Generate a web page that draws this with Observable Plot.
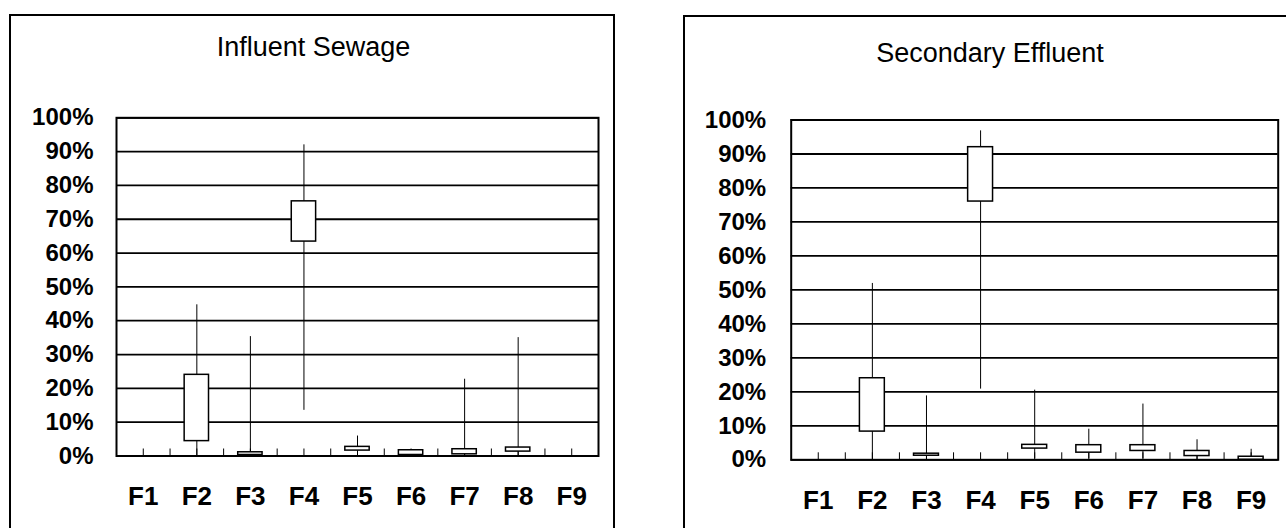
<!DOCTYPE html>
<html>
<head>
<meta charset="utf-8">
<script src="https://cdn.jsdelivr.net/npm/d3@7"></script>
<script src="https://cdn.jsdelivr.net/npm/@observablehq/plot@0.6"></script>
<style>
  html, body { margin: 0; padding: 0; background: #fff; }
  body { position: relative; width: 1286px; height: 528px; overflow: hidden; font-family: "Liberation Sans", Arial, sans-serif; }
  .frame { position: absolute; box-sizing: border-box; border: 2.5px solid #000; height: 600px; }
  .title { position: absolute; font-size: 27px; line-height: 27px; text-align: center; color: #000; white-space: nowrap; }
  .panel { position: absolute; top: 90px; }
  .panel svg { overflow: visible; background: transparent; max-width: none; }
</style>
</head>
<body>
<div class="frame" style="left:9px; top:14px; width:606px;"></div>
<div class="frame" style="left:683px; top:15px; width:640px;"></div>
<div class="title" style="left:10px; width:607px; top:33.7px;">Influent Sewage</div>
<div class="title" style="left:690px; width:600px; top:39.7px;">Secondary Effluent</div>
<div class="panel" id="left" style="left:0px;"></div>
<div class="panel" id="right" style="left:640px;"></div>
<script>
// Categories and tick values
const categories = ["F1", "F2", "F3", "F4", "F5", "F6", "F7", "F8", "F9"];
const yTicks = [0, 10, 20, 30, 40, 50, 60, 70, 80, 90, 100];

// Influent Sewage (percent): whisker min, box bottom, box top, whisker max
const influentMin = [null, 0, 0, 13.5, 0.5, 0.3, 0, 0, null];
const influentQ1  = [null, 4.4, 0.3, 63.4, 1.6, 0.3, 0.5, 1.3, null];
const influentQ3  = [null, 24, 1.1, 75.3, 2.7, 1.7, 2.0, 2.5, null];
const influentMax = [null, 44.7, 35.3, 92, 5.9, 1.7, 22.7, 35, null];

// Secondary Effluent (percent)
const effluentMin = [null, 0, 0, 20.8, 0.3, 0.3, 0.3, 0, 0];
const effluentQ1  = [null, 8.3, 1.2, 76, 3.3, 2.1, 2.6, 1.1, 0];
const effluentQ3  = [null, 24, 1.8, 92, 4.4, 4.3, 4.3, 2.6, 0.9];
const effluentMax = [null, 51.9, 18.8, 96.8, 20.5, 9, 16.4, 5.9, 3.1];

function rows(mins, q1s, q3s, maxs) {
  return categories.map((c, k) => ({
    cat: c, i: k + 1, min: mins[k], q1: q1s[k], q3: q3s[k], max: maxs[k]
  })).filter(d => d.q1 != null);
}

const n = categories.length;
const centers = categories.map((c, k) => k + 1);
const minorTicks = categories.flatMap((c, k) => k < n - 1 ? [k + 1, k + 1.5] : [k + 1]);

function panel(data, m) {
  return Plot.plot({
    width: m.width,
    height: 438,
    marginLeft: m.left,
    marginRight: m.right,
    marginTop: m.top,
    marginBottom: m.bottom,
    style: {background: "transparent", fontFamily: "'Liberation Sans', Arial, sans-serif", color: "#000", overflow: "visible"},
    x: {type: "linear", domain: [0.5, n + 0.5]},
    y: {domain: [0, 100]},
    marks: [
      Plot.ruleY(yTicks, {y: d => d, stroke: "#000", strokeWidth: 1.8}),
      Plot.ruleX(minorTicks, {x: d => d, y1: 0, y2: 0, insetTop: -7, stroke: "#000", strokeWidth: 1}),
      Plot.ruleX(data, {x: "i", y1: "min", y2: "max", stroke: "#000", strokeWidth: 1}),
      Plot.rectY(data, {x1: d => d.i - 0.5, x2: d => d.i + 0.5, y1: "q1", y2: "q3", insetLeft: 14.6, insetRight: 14.6, fill: "#fff", stroke: "#000", strokeWidth: 1.5}),
      Plot.frame({stroke: "#000", strokeWidth: 2}),
      Plot.axisY(yTicks, {tickSize: 0, tickPadding: m.ypad, tickFormat: d => d + "%", fontSize: 24, fontWeight: "bold", label: null}),
      Plot.axisX(centers, {tickSize: 0, tickPadding: 31, tickFormat: i => categories[i - 1], fontSize: 26, fontWeight: "bold", label: null})
    ]
  });
}

document.getElementById("left").appendChild(
  panel(rows(influentMin, influentQ1, influentQ3, influentMax),
        {width: 620, left: 116, right: 22, top: 27.3, bottom: 72.5, ypad: 23})
);
document.getElementById("right").appendChild(
  panel(rows(effluentMin, effluentQ1, effluentQ3, effluentMax),
        {width: 646, left: 150.7, right: 8.3, top: 29.5, bottom: 68.7, ypad: 25})
);
</script>
</body>
</html>
